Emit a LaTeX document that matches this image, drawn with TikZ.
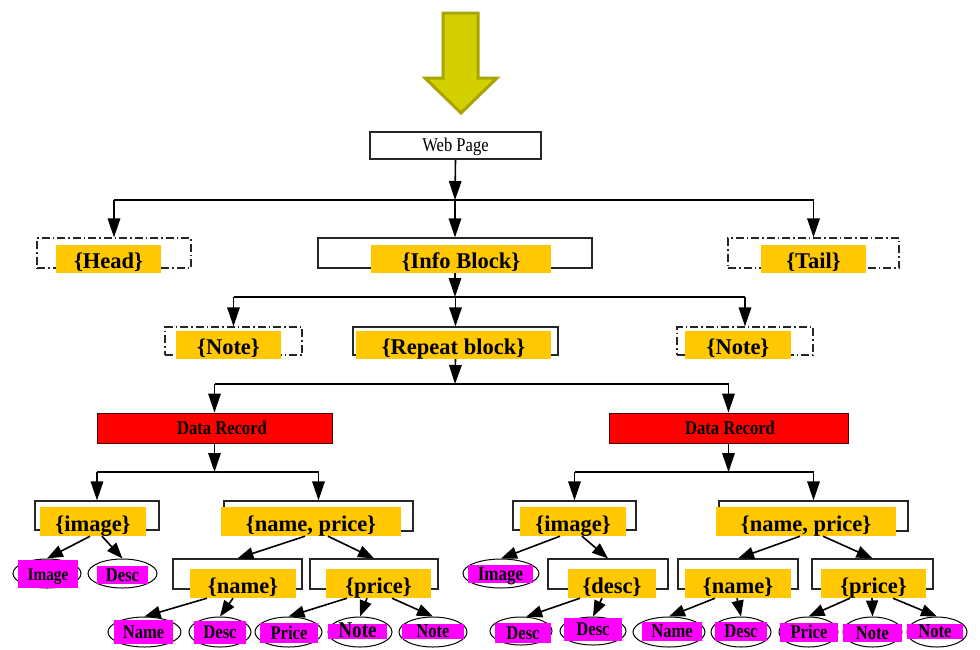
\documentclass[tikz,border=0pt]{standalone}
\usepackage{fontspec}
\setmainfont{Liberation Serif}
\newfontfamily\cnd{Liberation Serif}[FakeStretch=0.85]
\usetikzlibrary{arrows.meta,shapes.geometric,calc}
\definecolor{ylw}{RGB}{255,200,0}
\definecolor{mag}{RGB}{255,0,255}
\definecolor{arrfill}{RGB}{212,208,0}
\definecolor{arrline}{RGB}{168,164,0}
\tikzset{
 obox/.style={draw=black!85, line width=1.2pt, rectangle, inner sep=0pt},
 dbox/.style={obox, dash pattern=on 8pt off 3pt on 1.5pt off 3pt},
 ylab/.style={fill=ylw, inner sep=0pt, font=\fontsize{22.5}{24}\selectfont\bfseries, text height=19pt, text depth=0pt},
 mlab/.style={fill=mag, inner sep=0pt, font=\cnd\fontsize{19.5}{21}\selectfont\bfseries, text height=12.9pt, text depth=0pt},
 ctext/.style={inner sep=0pt, font=\cnd\fontsize{19.5}{21}\selectfont\bfseries, text height=12.9pt, text depth=0pt},
 ell/.style={draw, ellipse, line width=1pt, inner sep=0pt},
 drbox/.style={draw=black!70!red, fill=red, line width=0.8pt, inner sep=0pt},
 arr/.style={line width=1.6pt, -{Triangle[length=19pt,width=12.5pt]}},
 sarr/.style={line width=1.6pt, -{Triangle[length=16pt,width=12pt]}},
 ln/.style={line width=1.6pt},
}
\begin{document}
\begin{tikzpicture}[x=1pt,y=-1pt]
\useasboundingbox (0,0) rectangle (980,649);
% big yellow arrow
\draw[fill=arrfill, draw=arrline, line width=3pt, line join=miter]
  (443,13) -- (478,13) -- (478,78) -- (497,78) -- (461,113) -- (425,78) -- (443,78) -- cycle;
% Web page
\node[obox, minimum width=171pt, minimum height=27pt, font=\cnd\fontsize{19.5}{21}\selectfont, text height=12.9pt, text depth=0pt] (wp) at (455.5,145.5) {Web Page};
% level 1
\node[dbox, minimum width=154pt, minimum height=30pt] (head) at (114,253) {};
\node[obox, minimum width=274pt, minimum height=30pt] (info) at (455,253) {};
\node[dbox, minimum width=171pt, minimum height=30pt] (tail) at (813.5,253) {};
\node[ylab, minimum width=105pt, minimum height=28pt] (yhead) at (108.5,259) {\{Head\}};
\node[ylab, minimum width=180pt, minimum height=28pt] (yinfo) at (461,259) {\{Info Block\}};
\node[ylab, minimum width=105pt, minimum height=28pt] (ytail) at (813.5,259) {\{Tail\}};
% level 2
\node[dbox, minimum width=137pt, minimum height=28pt] (noteL) at (233.5,341) {};
\node[obox, minimum width=205pt, minimum height=28pt] (rep) at (455.5,341) {};
\node[dbox, minimum width=136pt, minimum height=28pt] (noteR) at (745,341) {};
\node[ylab, minimum width=105pt, minimum height=28pt] (ynoteL) at (228.5,345) {\{Note\}};
\node[ylab, minimum width=195pt, minimum height=28pt] (yrep) at (453.5,345) {\{Repeat block\}};
\node[ylab, minimum width=106pt, minimum height=28pt] (ynoteR) at (738,345) {\{Note\}};
% data records
\node[drbox, minimum width=235pt, minimum height=30pt] (drL) at (214.5,428) {};
\node[ctext] (drLt) at (222,428) {Data Record};
\node[drbox, minimum width=239pt, minimum height=30pt] (drR) at (728.5,428) {};
\node[ctext] (drRt) at (730,428) {Data Record};
% left group boxes
\node[obox, minimum width=124pt, minimum height=29pt] (imgL) at (97,515.5) {};
\node[obox, minimum width=189pt, minimum height=30pt] (npL) at (318.5,516) {};
\node[obox, minimum width=129pt, minimum height=30pt] (nmL) at (237.5,574) {};
\node[obox, minimum width=128pt, minimum height=30pt] (prL) at (374,574) {};
\node[ylab, minimum width=106pt, minimum height=29pt] (yimgL) at (93,521.5) {\{image\}};
\node[ylab, minimum width=180pt, minimum height=29pt] (ynpL) at (311,521.5) {\{name, price\}};
\node[ylab, minimum width=106pt, minimum height=29pt] (ynmL) at (243,583.5) {\{name\}};
\node[ylab, minimum width=105pt, minimum height=29pt] (yprL) at (378.5,583.5) {\{price\}};
% left ellipses
\node[ell, minimum width=68pt, minimum height=29pt] (eImgL) at (47,573.5) {};
\node[ell, minimum width=69pt, minimum height=29pt] (eDscL) at (122.5,573.5) {};
\node[ell, minimum width=73pt, minimum height=30pt] (eNmL) at (144.5,632) {};
\node[ell, minimum width=62pt, minimum height=30pt] (eDs2L) at (220,632) {};
\node[ell, minimum width=67pt, minimum height=30pt] (ePrL) at (288.5,632) {};
\node[ell, minimum width=64pt, minimum height=30pt] (eNt1L) at (360,632) {};
\node[ell, minimum width=68pt, minimum height=30pt] (eNt2L) at (433,632) {};
\node[mlab, minimum width=60pt, minimum height=28pt, font=\cnd\fontsize{18}{20}\selectfont\bfseries] (mImgL) at (48,574) {Image};
\node[mlab, minimum width=51pt, minimum height=18pt] (mDscL) at (122.5,575) {Desc};
\node[mlab, minimum width=59pt, minimum height=24pt] (mNmL) at (143.5,632) {Name};
\node[mlab, minimum width=52pt, minimum height=23pt] (mDs2L) at (220,632.5) {Desc};
\node[mlab, minimum width=58pt, minimum height=20pt] (mPrL) at (289,633) {Price};
\node[mlab, minimum width=59pt, minimum height=15pt, font=\cnd\fontsize{22.5}{24}\selectfont\bfseries] (mNt1L) at (357.5,631.5) {Note};
\node[mlab, minimum width=62pt, minimum height=15pt] (mNt2L) at (433,631.5) {Note};
% right group boxes
\node[obox, minimum width=123pt, minimum height=29pt] (imgR) at (574.5,515.5) {};
\node[obox, minimum width=120pt, minimum height=30pt] (dscR) at (608,574) {};
\node[obox, minimum width=189pt, minimum height=30pt] (npR) at (813.5,516) {};
\node[obox, minimum width=120pt, minimum height=30pt] (nmR) at (738,574) {};
\node[obox, minimum width=121pt, minimum height=30pt] (prR) at (872.5,574) {};
\node[ylab, minimum width=106pt, minimum height=29pt] (yimgR) at (573,521.5) {\{image\}};
\node[ylab, minimum width=88pt, minimum height=29pt] (ydscR) at (612,583.5) {\{desc\}};
\node[ylab, minimum width=180pt, minimum height=29pt] (ynpR) at (806,521.5) {\{name, price\}};
\node[ylab, minimum width=106pt, minimum height=29pt] (ynmR) at (738,583.5) {\{name\}};
\node[ylab, minimum width=105pt, minimum height=29pt] (yprR) at (873.5,583.5) {\{price\}};
% right ellipses
\node[ell, minimum width=76pt, minimum height=29pt] (eImgR) at (501,573.5) {};
\node[ell, minimum width=62pt, minimum height=28pt] (eDs1R) at (521,631) {};
\node[ell, minimum width=66pt, minimum height=28pt] (eDs2R) at (593,631) {};
\node[ell, minimum width=72pt, minimum height=30pt] (eNmR) at (669,632) {};
\node[ell, minimum width=60pt, minimum height=30pt] (eDsR) at (741,632) {};
\node[ell, minimum width=59pt, minimum height=30pt] (ePrR) at (808.5,632) {};
\node[ell, minimum width=59pt, minimum height=30pt] (eNt1R) at (872.5,632) {};
\node[ell, minimum width=60pt, minimum height=30pt] (eNt2R) at (937,632) {};
\node[mlab, minimum width=65pt, minimum height=18pt, font=\cnd\fontsize{20}{22}\selectfont\bfseries] (mImgR) at (500.5,574) {Image};
\node[mlab, minimum width=56pt, minimum height=20pt] (mDs1R) at (523,633) {Desc};
\node[mlab, minimum width=58pt, minimum height=23pt] (mDs2R) at (593,629.5) {Desc};
\node[mlab, minimum width=60pt, minimum height=19pt] (mNmR) at (672,631.5) {Name};
\node[mlab, minimum width=52pt, minimum height=19pt] (mDsR) at (741,631.5) {Desc};
\node[mlab, minimum width=58pt, minimum height=19pt] (mPrR) at (809,632.5) {Price};
\node[mlab, minimum width=59pt, minimum height=18pt] (mNt1R) at (872.5,633) {Note};
\node[mlab, minimum width=56pt, minimum height=15pt] (mNt2R) at (935,631.5) {Note};
% junctions
\coordinate (j1) at (455,200);
\coordinate (j2) at (455,297);
\coordinate (j3) at (455,384);
\coordinate (j4L) at (214.5,472);
\coordinate (j4R) at (728.5,472);
% tree connectors
\draw[arr] (wp.south) -- (j1);
\draw[ln] (j1 -| head.north) -- (j1 -| tail.north);
\draw[arr] (j1 -| head.north) -- (head.north);
\draw[arr] (j1) -- (info.north);
\draw[arr] (j1 -| tail.north) -- (tail.north);
\draw[arr] (info.center |- yinfo.south) -- (j2);
\draw[ln] (j2 -| noteL.north) -- (j2 -| noteR.north);
\draw[arr] (j2 -| noteL.north) -- (noteL.north);
\draw[arr] (j2 -| rep.north) -- (rep.north);
\draw[arr] (j2 -| noteR.north) -- (noteR.north);
\draw[arr] (rep.center |- yrep.south) -- (j3);
\draw[ln] (j3 -| drL.north) -- (j3 -| drR.north);
\draw[arr] (j3 -| drL.north) -- (drL.north);
\draw[arr] (j3 -| drR.north) -- (drR.north);
\draw[arr] (drL.south) -- (j4L);
\draw[ln] (j4L -| imgL.north) -- (j4L -| npL.north);
\draw[arr] (j4L -| imgL.north) -- (imgL.north);
\draw[arr] (j4L -| npL.north) -- (npL.north);
\draw[arr] (drR.south) -- (j4R);
\draw[ln] (j4R -| imgR.north) -- (j4R -| npR.north);
\draw[arr] (j4R -| imgR.north) -- (imgR.north);
\draw[arr] (j4R -| npR.north) -- (npR.north);
% slanted connectors left
\draw[sarr] ([xshift=-3pt]yimgL.south) -- (eImgL.north);
\draw[sarr] ([xshift=9pt]yimgL.south) -- (eDscL.north);
\draw[sarr] ([xshift=-6pt]ynpL.south) -- (nmL.north);
\draw[sarr] ([xshift=17pt]ynpL.south) -- (prL.north);
\draw[sarr] ([xshift=-36pt]ynmL.south) -- (eNmL.north);
\draw[sarr] ([xshift=-10pt]ynmL.south) -- (eDs2L.north);
\draw[sarr] ([xshift=-31.5pt]yprL.south) -- (ePrL.north);
\draw[sarr] ([xshift=-11.5pt]yprL.south) -- (eNt1L.north);
\draw[sarr] ([xshift=13.5pt]yprL.south) -- (eNt2L.north);
% slanted connectors right
\draw[sarr] ([xshift=-13pt]yimgR.south) -- (eImgR.north);
\draw[sarr] ([xshift=9pt]yimgR.south) -- (dscR.north);
\draw[sarr] ([xshift=-32pt]ydscR.south) -- (eDs1R.70);
\draw[sarr] ([xshift=-10pt]ydscR.south) -- (eDs2R.north);
\draw[sarr] ([xshift=-6pt]ynpR.south) -- (nmR.north);
\draw[sarr] ([xshift=17pt]ynpR.south) -- (prR.north);
\draw[sarr] ([xshift=-23pt]ynmR.south) -- (eNmR.north);
\draw[sarr] ([xshift=-1pt]ynmR.south) -- (eDsR.north);
\draw[sarr] ([xshift=-23.5pt]yprR.south) -- (ePrR.north);
\draw[sarr] ([xshift=-1.5pt]yprR.south) -- (eNt1R.north);
\draw[sarr] ([xshift=19.5pt]yprR.south) -- (eNt2R.north);
\end{tikzpicture}
\end{document}
